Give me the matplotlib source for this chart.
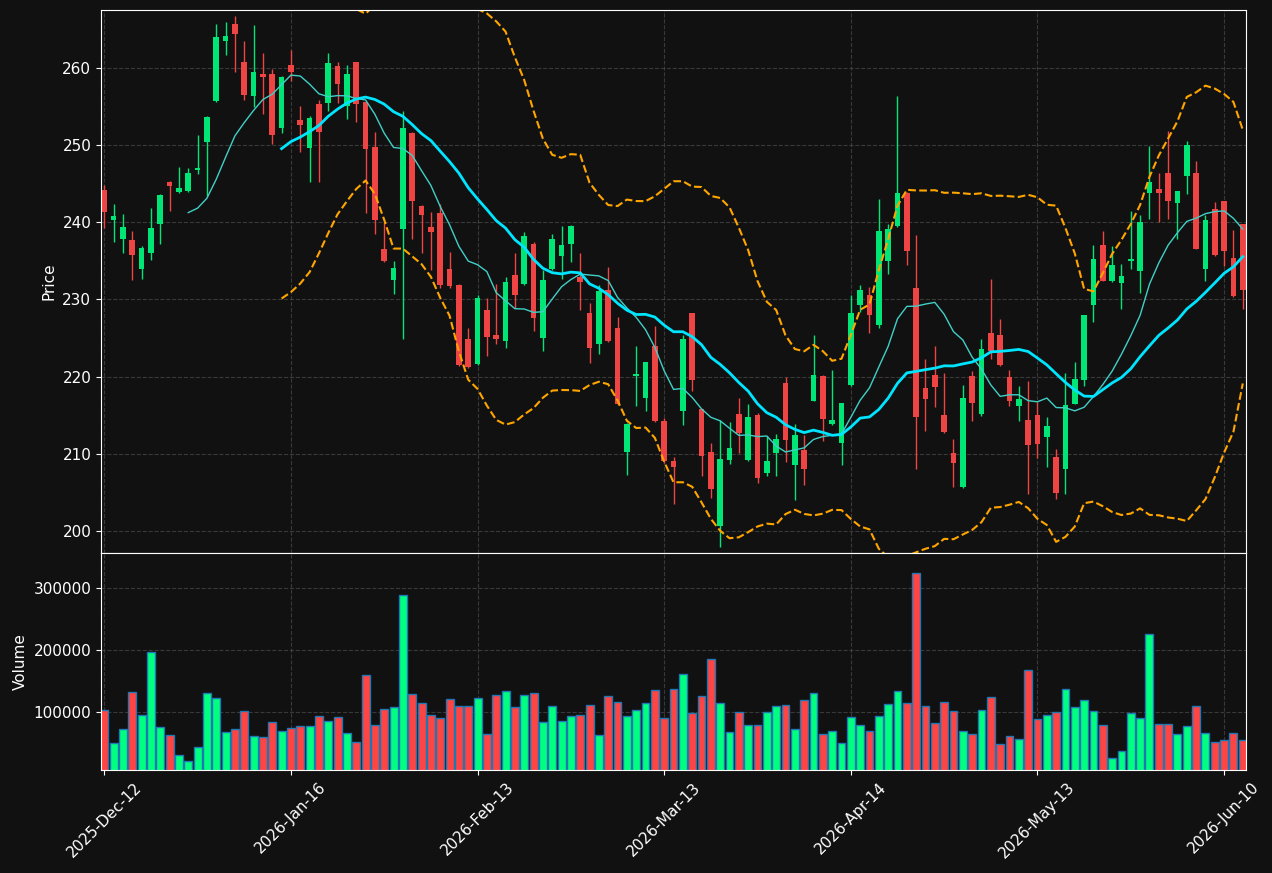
import numpy as np
import pandas as pd
import matplotlib
matplotlib.use("Agg")
import matplotlib.pyplot as plt

# OHLC values, one per trading bar
opens = [244.22, 240.25, 237.77, 237.73, 233.90, 235.97, 239.71, 245.26, 243.86, 244.08,
         246.70, 250.35, 255.72, 263.47, 265.64, 260.72, 256.35, 259.14, 259.14, 252.20,
         260.36, 253.19, 249.59, 255.27, 255.45, 260.18, 255.09, 260.72, 255.63, 249.68,
         236.56, 232.45, 239.08, 251.61, 242.15, 239.44, 241.24, 233.99, 231.91, 224.88,
         221.68, 228.67, 225.42, 224.56, 233.22, 231.96, 237.23, 225.06, 233.99, 235.56,
         237.14, 232.95, 228.26, 224.16, 231.24, 226.32, 210.27, 220.14, 217.17, 223.98,
         214.28, 209.05, 215.59, 228.26, 215.82, 210.23, 200.62, 209.19, 215.18, 209.19,
         215.05, 207.57, 210.05, 219.20, 208.51, 210.54, 216.90, 220.10, 213.92, 211.35,
         218.88, 229.21, 230.60, 226.64, 234.93, 239.49, 243.81, 231.51, 218.52, 220.23,
         215.05, 210.09, 205.72, 220.10, 215.18, 225.65, 225.37, 220.01, 216.18, 214.37,
         215.05, 212.12, 209.59, 207.97, 216.49, 219.56, 229.21, 237.10, 232.41, 232.09,
         234.93, 233.67, 243.81, 244.36, 246.43, 242.46, 245.93, 246.43, 233.99, 241.70,
         242.78, 235.38, 239.76]
highs = [244.80, 242.42, 241.06, 238.85, 236.92, 241.83, 243.72, 245.39, 247.20, 247.02,
         251.34, 253.80, 265.68, 265.91, 266.76, 263.52, 265.55, 261.94, 259.82, 258.95,
         262.25, 255.04, 253.82, 255.81, 261.94, 260.81, 260.41, 260.81, 255.70, 251.70,
         240.07, 235.02, 254.36, 251.65, 242.28, 241.33, 242.30, 236.15, 231.95, 226.32,
         230.51, 230.20, 231.96, 232.95, 236.01, 238.72, 237.46, 233.76, 238.49, 239.53,
         239.60, 236.01, 229.48, 231.87, 234.21, 227.72, 213.95, 223.93, 221.95, 226.55,
         214.60, 209.64, 225.33, 228.30, 215.85, 211.35, 214.37, 214.15, 217.21, 216.40,
         215.28, 212.34, 212.57, 220.01, 213.92, 212.48, 225.42, 220.15, 220.91, 216.60,
         230.51, 231.87, 231.60, 243.00, 239.71, 256.39, 243.85, 238.36, 222.26, 223.93,
         220.46, 211.89, 218.88, 220.68, 224.83, 232.63, 227.45, 220.91, 218.79, 219.42,
         216.72, 214.73, 210.68, 220.46, 221.95, 228.00, 237.01, 238.85, 236.92, 234.53,
         241.51, 240.97, 249.90, 246.38, 251.84, 244.10, 250.53, 247.96, 240.97, 242.64,
         242.80, 238.99, 239.80]
lows = [239.26, 237.46, 236.01, 232.50, 232.63, 235.11, 237.14, 241.42, 243.77, 243.86,
        246.25, 243.45, 255.60, 261.71, 259.46, 255.85, 254.95, 254.05, 250.13, 251.57,
        258.24, 249.09, 245.21, 245.21, 254.36, 255.49, 253.42, 253.01, 241.20, 238.49,
        234.90, 230.69, 224.88, 237.82, 236.01, 233.76, 231.50, 231.50, 221.40, 221.10,
        221.50, 222.62, 224.20, 223.71, 228.89, 231.90, 225.87, 223.26, 233.76, 232.63,
        234.84, 228.57, 221.77, 222.89, 224.50, 216.30, 207.25, 216.18, 215.50, 214.10,
        208.80, 203.55, 213.70, 218.12, 207.07, 204.32, 197.92, 208.65, 210.09, 209.05,
        206.17, 207.07, 207.07, 208.96, 204.00, 205.90, 216.80, 211.67, 213.70, 208.51,
        218.80, 228.35, 225.65, 226.32, 233.31, 239.40, 234.44, 208.06, 212.93, 216.09,
        212.66, 205.67, 205.58, 214.24, 214.91, 222.26, 221.40, 216.18, 214.24, 204.77,
        209.41, 208.29, 204.14, 204.82, 216.40, 218.79, 227.13, 232.40, 232.23, 228.80,
        233.99, 230.83, 240.39, 239.98, 240.39, 237.77, 243.68, 236.50, 232.41, 235.60,
        234.30, 230.30, 228.71]
closes = [241.29, 240.84, 239.44, 235.70, 236.69, 239.31, 243.59, 244.67, 244.49, 246.43,
          247.06, 253.69, 264.06, 264.19, 264.37, 256.48, 259.41, 258.83, 251.25, 258.87,
          259.41, 252.56, 253.55, 251.66, 260.59, 257.88, 259.14, 255.31, 249.45, 240.25,
          234.93, 234.12, 252.15, 242.73, 240.88, 238.67, 231.87, 231.69, 221.45, 221.18,
          230.20, 225.19, 224.83, 232.27, 230.60, 238.27, 227.54, 232.54, 237.86, 237.10,
          239.53, 232.23, 223.66, 231.14, 224.56, 216.40, 213.88, 220.37, 221.90, 214.19,
          209.05, 208.24, 224.88, 219.51, 209.77, 205.45, 209.32, 210.77, 212.66, 214.82,
          206.80, 209.05, 211.89, 211.80, 212.48, 208.06, 220.23, 214.51, 214.37, 216.54,
          228.26, 231.24, 227.94, 238.90, 239.13, 243.81, 236.24, 214.82, 217.08, 218.70,
          212.84, 208.74, 217.21, 216.63, 223.62, 223.30, 221.45, 216.85, 217.08, 211.13,
          211.31, 213.61, 204.91, 216.27, 219.69, 227.99, 235.29, 232.41, 234.48, 233.04,
          235.29, 240.07, 245.17, 243.81, 242.78, 244.08, 249.95, 236.56, 240.34, 235.70,
          236.24, 230.38, 231.19]
volumes = [103000, 50000, 72600, 132000, 95000, 198000, 76000, 63000, 30600, 21000,
           43500, 130600, 122600, 67700, 72600, 101600, 61300, 59700, 83900, 69400,
           74200, 77400, 77400, 93500, 85500, 92000, 66000, 51600, 159700, 79000,
           104800, 108000, 290000, 129000, 114500, 95000, 90300, 121000, 109700, 109700,
           122600, 64500, 127400, 133900, 108000, 127400, 130600, 83900, 109700, 85500,
           93500, 95000, 111300, 62900, 125800, 116000, 93500, 103200, 114500, 135500,
           90300, 137000, 161000, 98400, 125800, 185500, 114500, 67700, 100000, 79000,
           79000, 100000, 109700, 111300, 72600, 119400, 130600, 64500, 69400, 50000,
           92000, 79000, 69400, 93500, 113000, 134000, 114500, 324000, 109700, 82000,
           116000, 101600, 69400, 64500, 103000, 124000, 48400, 61300, 56500, 167700,
           88700, 95000, 100000, 137000, 108000, 119400, 101600, 79000, 25800, 37000,
           98400, 90300, 227000, 80600, 80600, 64500, 77400, 109700, 66000, 51600,
           54800, 66000, 54800]

tick_pos = [0, 20, 40, 60, 80, 100, 120]
tick_labels = ["2025-Dec-12", "2026-Jan-16", "2026-Feb-13", "2026-Mar-13",
               "2026-Apr-14", "2026-May-13", "2026-Jun-10"]

df = pd.DataFrame({"Open": opens, "High": highs, "Low": lows,
                   "Close": closes, "Volume": volumes})
x = np.arange(len(df))
up = df["Close"] >= df["Open"]

# moving averages and Bollinger bands derived from the closes
ma10 = df["Close"].rolling(10).mean()
ma20 = df["Close"].rolling(20).mean()
std20 = df["Close"].rolling(20).std()
upper = ma20 + 2 * std20
lower = ma20 - 2 * std20

bg = "#111111"
candle_up, candle_dn = "#00e676", "#ef4444"
vol_up, vol_dn = "#00ff80", "#ff4444"

fig = plt.figure(figsize=(12.72, 8.73), dpi=100, facecolor=bg)
ax = fig.add_axes([0.0794, 0.3666, 0.9002, 0.622])
axv = fig.add_axes([0.0794, 0.118, 0.9002, 0.2486], sharex=ax)

for a in (ax, axv):
    a.set_facecolor(bg)
    for s in a.spines.values():
        s.set_color("white")
    a.tick_params(colors="white", labelsize=11)
    a.grid(True, color="#555555", linestyle="--", linewidth=0.8, alpha=0.6)
    a.set_axisbelow(True)

# candles
colors = np.where(up, candle_up, candle_dn)
ax.vlines(x, df["Low"], df["High"], colors=colors, linewidth=1)
body = np.maximum((df["Close"] - df["Open"]).abs(), 0.15)
bottoms = np.minimum(df["Open"], df["Close"])
ax.bar(x, body, bottom=bottoms, width=0.6, color=colors, linewidth=0)

ax.plot(x, ma10, color="#40d0c8", linewidth=1)
ax.plot(x, ma20, color="#00e5ff", linewidth=2)
ax.plot(x, upper, color="orange", linestyle="--", linewidth=1.5)
ax.plot(x, lower, color="orange", linestyle="--", linewidth=1.5)

ax.set_ylim(197.15, 267.5)
ax.set_ylabel("Price", color="white", fontsize=11)
plt.setp(ax.get_xticklabels(), visible=False)
ax.tick_params(axis="x", length=0)

# volume
vcolors = np.where(up, vol_up, vol_dn)
axv.bar(x, df["Volume"], width=0.85, color=vcolors, edgecolor="#1f77b4", linewidth=1)
axv.set_ylim(7000, 357000)
axv.set_yticks([100000, 200000, 300000])
axv.set_yticklabels(["100000", "200000", "300000"])
axv.set_ylabel("Volume", color="white", fontsize=11)

axv.set_xlim(-0.35, len(df) - 0.65)
axv.set_xticks(tick_pos)
axv.set_xticklabels(tick_labels, rotation=45, ha="center")

fig.savefig("out.png", dpi=100, facecolor=bg)
